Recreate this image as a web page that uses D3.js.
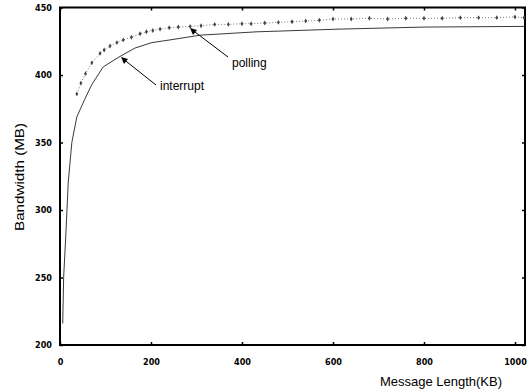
<!DOCTYPE html>
<html>
<head>
<meta charset="utf-8">
<script src="https://cdn.jsdelivr.net/npm/d3@7"></script>
<style>
  body { margin: 0; background: #fff; }
  .tick text { font-family: "DejaVu Sans Condensed", "DejaVu Sans", sans-serif; font-weight: bold; font-size: 9px; }
</style>
</head>
<body>
<svg width="531" height="390"></svg>
<script>
// values
var xTicks = [0, 200, 400, 600, 800, 1000];
var yTicks = [200, 250, 300, 350, 400, 450];

var interruptKB = [6, 8, 13, 18, 26, 37, 53, 70, 95, 128, 165, 202, 242, 308, 433, 615, 800, 1020];
var interruptBW = [216, 250, 283, 320, 350, 369, 381, 393, 406, 413, 420, 424, 426, 429.5, 432, 434, 435.5, 436];

var pollingKB = [37, 46, 56, 70, 88, 97, 110, 125, 139, 157, 176, 190, 204, 220, 240, 260, 286, 310, 340, 370,
                 400, 420, 450, 480, 510, 540, 570, 600, 640, 680, 720, 760, 800, 840, 880, 920, 960, 1000, 1020];
var pollingBW = [386, 394, 401, 409, 416, 418.5, 421.5, 424, 426, 428, 430.5, 432, 433, 434, 435, 435.5, 436, 436.5, 437.5, 437.5,
                 438, 438, 438.5, 439, 439.5, 440, 440.5, 441.5, 441.5, 442, 441.5, 442, 442, 442, 442.5, 442.5, 442.5, 443, 442.5];

function main() {
    var svg = d3.select("svg"),
        left = 60, right = 525, top = 7.5, bottom = 345;

    var xScale = d3.scaleLinear().domain([0, 1022]).range([left, right]),
        yScale = d3.scaleLinear().domain([200, 450]).range([bottom, top]);

    // axes with inward ticks
    svg.append("g")
       .attr("transform", "translate(0," + bottom + ")")
       .call(d3.axisBottom(xScale).tickValues(xTicks).tickFormat(d3.format("d")).tickSizeInner(-3).tickSizeOuter(0).tickPadding(14))
       .call(function(g) { g.select(".domain").remove(); });

    svg.append("g")
       .attr("transform", "translate(" + left + ",0)")
       .call(d3.axisLeft(yScale).tickValues(yTicks).tickSizeInner(-3).tickSizeOuter(0).tickPadding(8))
       .call(function(g) { g.select(".domain").remove(); });

    svg.append("g")
       .attr("transform", "translate(0," + top + ")")
       .call(d3.axisTop(xScale).tickValues(xTicks).tickSizeInner(-3).tickSizeOuter(0).tickFormat(""))
       .call(function(g) { g.select(".domain").remove(); });

    svg.append("g")
       .attr("transform", "translate(" + right + ",0)")
       .call(d3.axisRight(yScale).tickValues(yTicks).tickSizeInner(-3).tickSizeOuter(0).tickFormat(""))
       .call(function(g) { g.select(".domain").remove(); });

    svg.selectAll(".tick line").attr("stroke", "#000").attr("stroke-width", 1.5);

    // frame
    svg.append("rect")
       .attr("x", left).attr("y", top)
       .attr("width", right - left).attr("height", bottom - top)
       .attr("fill", "none").attr("stroke", "#000").attr("stroke-width", 2);

    var interrupt = interruptKB.map(function(k, i) { return [k, interruptBW[i]]; });
    var polling = pollingKB.map(function(k, i) { return [k, pollingBW[i]]; });

    var line = d3.line()
                 .x(function(d) { return xScale(d[0]); })
                 .y(function(d) { return yScale(d[1]); });

    svg.append("path")
       .datum(interrupt)
       .attr("d", line)
       .attr("fill", "none")
       .attr("stroke", "#222")
       .attr("stroke-width", 0.9);

    svg.append("path")
       .datum(polling)
       .attr("d", line)
       .attr("fill", "none")
       .attr("stroke", "#777")
       .attr("stroke-width", 1)
       .attr("stroke-dasharray", "1,2");

    svg.selectAll(".pt")
       .data(polling)
       .enter().append("path")
       .attr("class", "pt")
       .attr("transform", function(d) { return "translate(" + xScale(d[0]) + "," + yScale(d[1]) + ")"; })
       .attr("d", d3.symbol().type(d3.symbolDiamond).size(7))
       .attr("fill", "#444");

    // annotations
    var ann = svg.append("g").attr("font-family", "'Liberation Sans', Arial, sans-serif").attr("font-size", "12px");

    ann.append("line")
       .attr("x1", 228).attr("y1", 57).attr("x2", 191).attr("y2", 29)
       .attr("stroke", "#000").attr("stroke-width", 1);
    ann.append("path")
       .attr("d", "M190,28 L197,30 L193,35 Z").attr("fill", "#000");
    ann.append("text").attr("x", 232).attr("y", 67).text("polling");

    ann.append("line")
       .attr("x1", 156).attr("y1", 85).attr("x2", 122).attr("y2", 58)
       .attr("stroke", "#000").attr("stroke-width", 1);
    ann.append("path")
       .attr("d", "M121,57 L128,59 L124,64 Z").attr("fill", "#000");
    ann.append("text").attr("x", 160).attr("y", 90).text("interrupt");

    // axis titles
    svg.append("text")
       .attr("x", 502).attr("y", 386)
       .attr("text-anchor", "end")
       .attr("font-family", "'Liberation Sans', Arial, sans-serif")
       .attr("font-size", "13px")
       .text("Message Length(KB)");

    svg.append("text")
       .attr("transform", "translate(24,177) rotate(-90)")
       .attr("text-anchor", "middle")
       .attr("font-family", "'Liberation Sans', Arial, sans-serif")
       .attr("font-size", "13px")
       .attr("textLength", 108)
       .attr("lengthAdjust", "spacingAndGlyphs")
       .text("Bandwidth (MB)");
}
main();
</script>
</body>
</html>
